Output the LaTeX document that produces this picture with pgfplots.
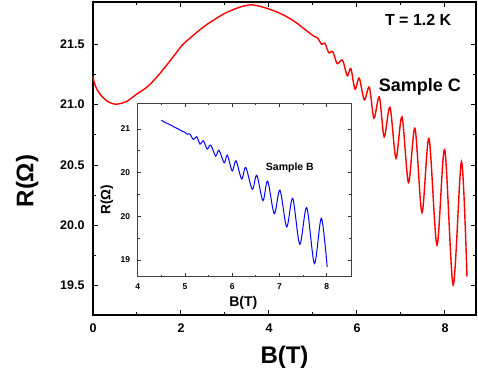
\documentclass[border=0pt]{standalone}
\usepackage{fontspec}
\setmainfont{Liberation Sans}
\usepackage{pgfplots}
\pgfplotsset{compat=1.18}
\begin{document}
\begin{tikzpicture}
\path[use as bounding box] (-93pt,-61pt) rectangle (385pt,315pt);
\begin{axis}[
 at={(0pt,0pt)}, anchor=south west,
 scale only axis, width=383pt, height=313pt,
 xmin=0, xmax=8.705, ymin=19.257, ymax=21.851,
 xtick={0,2,4,6,8}, ytick={19.5,20,20.5,21,21.5},
 minor x tick num=1, minor y tick num=1,
 tick align=inside, major tick length=5pt, minor tick length=3pt,
 tick style={black, line width=1pt},
 axis line style={line width=1.4pt},
 /pgf/number format/assume math mode=true,
 yticklabel={\pgfmathprintnumber[fixed,fixed zerofill,precision=1]{\tick}},
 ticklabel style={font=\bfseries\fontsize{12.5}{14}\selectfont},
 yticklabel style={xshift=-5pt},
 xticklabel style={yshift=-5pt},
 xlabel={B(T)}, ylabel={R(Ω)},
 xlabel style={at={(axis description cs:0.5,-0.135)}, anchor=center, font=\bfseries\fontsize{24}{28}\selectfont},
 ylabel style={at={(axis description cs:-0.172,0.428)}, anchor=center, font=\bfseries\fontsize{24}{28}\selectfont},
 clip=false,
]
\addplot[red, line width=1.4pt, smooth, tension=0.5] coordinates {
(0.00,21.23) (0.04,21.17) (0.10,21.12) (0.20,21.07) (0.32,21.03) (0.45,21.008)
(0.55,21.005) (0.65,21.012) (0.78,21.03) (0.99,21.087) (1.15,21.125) (1.30,21.17)
(1.50,21.25) (1.68,21.33) (1.85,21.41) (2.02,21.49) (2.20,21.55) (2.36,21.60)
(2.55,21.655) (2.74,21.70) (2.89,21.735) (3.04,21.765) (3.27,21.80) (3.45,21.82)
(3.61,21.828) (3.80,21.815) (4.02,21.79) (4.20,21.765) (4.40,21.73) (4.60,21.685)
(4.78,21.634) (4.92,21.595) (5.01,21.57) (5.10,21.555) (5.20,21.50) (5.27,21.51)
(5.36,21.43) (5.45,21.44) (5.55,21.34) (5.67,21.37) (5.78,21.24) (5.86,21.30)
(5.955,21.128) (6.05,21.22) (6.166,21.04) (6.28,21.145) (6.386,20.888) (6.507,21.065)
(6.618,20.733) (6.75,20.979) (6.886,20.556) (7.023,20.899) (7.17,20.354) (7.318,20.805)
(7.477,20.105) (7.636,20.721) (7.818,19.837) (7.993,20.629) (8.186,19.506) (8.375,20.528)
(8.50,19.575)
};
\node[font=\bfseries\fontsize{16}{18}\selectfont] at (axis cs:7.39,21.703) {T = 1.2 K};
\node[font=\bfseries\fontsize{18}{20}\selectfont] at (axis cs:7.43,21.145) {Sample C};
\end{axis}
\begin{axis}[
 at={(44.7pt,38.3pt)}, anchor=south west,
 scale only axis, width=213.3pt, height=173.4pt,
 axis background/.style={fill=white},
 xmin=4, xmax=8.514, ymin=19.309, ymax=21.294,
 xtick={4,5,6,7,8}, ytick={19.5,20,20.5,21}, yticklabels={19,20,20,21},
 minor x tick num=1, minor y tick num=1,
 tick align=inside, major tick length=3.5pt, minor tick length=2pt,
 tick style={black!80, line width=0.7pt},
 axis line style={black!75, line width=1pt},
 /pgf/number format/assume math mode=true,
 ticklabel style={font=\bfseries\fontsize{8.5}{10}\selectfont},
 yticklabel style={xshift=-4pt},
 xticklabel style={yshift=-3pt},
 xlabel={B(T)}, ylabel={R(Ω)},
 xlabel style={at={(axis description cs:0.495,-0.15)}, anchor=center, font=\bfseries\fontsize{14}{16}\selectfont},
 ylabel style={at={(axis description cs:-0.144,0.445)}, anchor=center, font=\bfseries\fontsize{13.5}{16}\selectfont},
 clip=false,
]
\addplot[blue, line width=1pt, smooth, tension=0.5] coordinates {
(4.50,21.10) (4.56,21.08) (4.62,21.065) (4.70,21.045) (4.78,21.02) (4.86,21.00)
(4.93,20.978) (5.00,20.962) (5.05,20.94) (5.10,20.945) (5.18,20.88) (5.25,20.911)
(5.32,20.827) (5.39,20.865) (5.47,20.77) (5.545,20.816) (5.65,20.69) (5.72,20.758)
(5.83,20.613) (5.896,20.70) (6.0,20.52) (6.08,20.636) (6.2,20.427) (6.286,20.56)
(6.425,20.31) (6.52,20.47) (6.65,20.18) (6.75,20.404) (6.89,20.03) (7.01,20.30)
(7.153,19.88) (7.28,20.206) (7.43,19.68) (7.577,20.10) (7.74,19.46) (7.886,19.977)
(8.01,19.42)
};
\node[font=\bfseries\fontsize{10.5}{12}\selectfont] at (axis cs:7.22,20.556) {Sample B};
\end{axis}
\end{tikzpicture}
\end{document}
